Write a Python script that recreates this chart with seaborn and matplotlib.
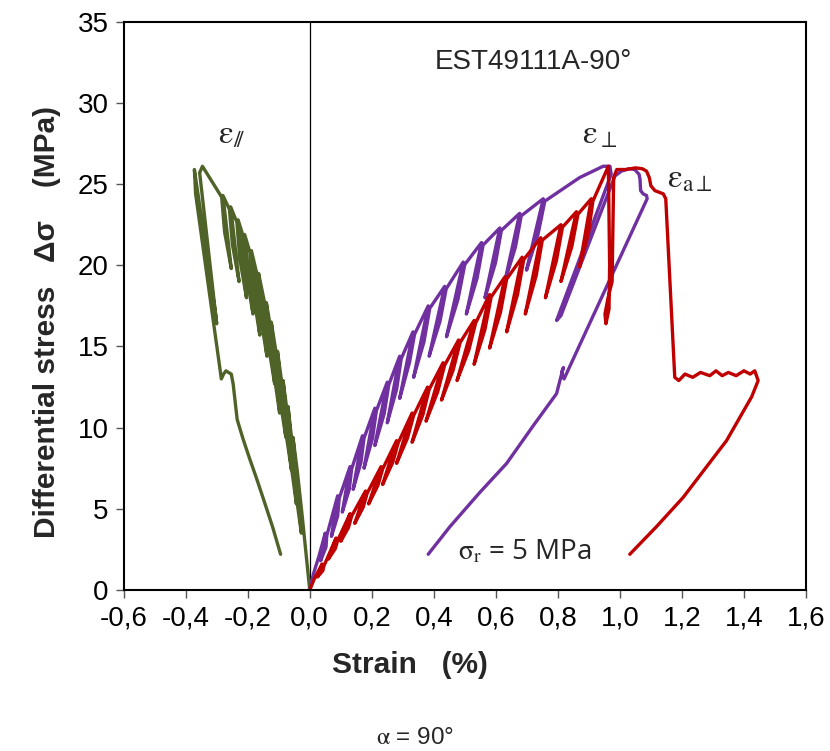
import matplotlib
matplotlib.use("Agg")
import matplotlib.pyplot as plt
import pandas as pd
import seaborn as sns

# ---------------- data (strain %, differential stress MPa) ----------------
# each cycle: peak -> unloading end -> reloading mid -> back on envelope
par_x = [0, -0.008, -0.016, -0.024, -0.032, -0.04,
         -0.054, -0.027, -0.0485, -0.058,
         -0.07, -0.043, -0.0645, -0.074,
         -0.086, -0.059, -0.0805, -0.09,
         -0.104, -0.077, -0.0985, -0.108,
         -0.124, -0.097, -0.1185, -0.128,
         -0.14, -0.113, -0.1345, -0.144,
         -0.165, -0.138, -0.1595, -0.169,
         -0.188, -0.161, -0.1825, -0.192,
         -0.21, -0.183, -0.2045, -0.214,
         -0.231, -0.204, -0.2255, -0.235,
         -0.255, -0.228, -0.2495, -0.259,
         -0.28, -0.253, -0.2745, -0.284,
         -0.346, -0.355, -0.30, -0.303, -0.372, -0.368, -0.285,
         -0.278, -0.27, -0.262, -0.253, -0.247, -0.234, -0.215, -0.194,
         -0.172, -0.151, -0.12, -0.094]
par_y = [0, 1.5, 3.0, 4.5, 5.9, 7.3,
         9.4, 3.5, 6.45, 9.25,
         11.3, 5.3, 8.3, 11.15,
         12.9, 7.4, 10.15, 12.75,
         14.7, 9.4, 12.05, 14.55,
         16.5, 10.9, 13.7, 16.35,
         17.7, 12.7, 15.2, 17.55,
         19.5, 14.4, 16.95, 19.35,
         20.9, 15.7, 18.3, 20.75,
         21.9, 17.0, 19.45, 21.75,
         22.8, 18.0, 20.4, 22.65,
         23.6, 19.0, 21.3, 23.45,
         24.3, 19.8, 22.05, 24.2,
         26.1, 25.7, 16.4, 16.9, 25.9, 24.4, 13.0,
         13.3, 13.5, 13.4, 13.3, 12.7, 10.5, 9.3, 8.1,
         6.9, 5.7, 3.9, 2.2]

perp_x = [0, 0.012, 0.03,
          0.05, 0.035, 0.0525, 0.055,
          0.09, 0.07, 0.09, 0.095,
          0.13, 0.105, 0.1275, 0.135,
          0.17, 0.14, 0.165, 0.175,
          0.21, 0.175, 0.2025, 0.215,
          0.25, 0.21, 0.24, 0.255,
          0.29, 0.25, 0.28, 0.295,
          0.333, 0.29, 0.3215, 0.338,
          0.382, 0.335, 0.3685, 0.387,
          0.435, 0.385, 0.42, 0.44,
          0.495, 0.441, 0.478, 0.50,
          0.554, 0.505, 0.5395, 0.559,
          0.613, 0.565, 0.599, 0.618,
          0.677, 0.629, 0.663, 0.682,
          0.753, 0.699, 0.736, 0.758,
          0.87, 0.946, 0.968, 0.972, 0.796, 0.81, 0.984, 1.005, 1.03,
          1.048, 1.062, 1.065, 1.067, 1.075, 1.086, 1.088, 0.82, 0.812,
          0.818, 0.808, 0.796, 0.72, 0.635, 0.548, 0.452, 0.382]
perp_y = [0, 1.0, 2.1,
          3.5, 1.8, 2.65, 3.35,
          5.8, 3.3, 4.55, 5.65,
          7.6, 4.8, 6.2, 7.45,
          9.5, 6.2, 7.85, 9.35,
          11.2, 7.5, 9.35, 11.05,
          12.8, 8.9, 10.85, 12.65,
          14.4, 10.3, 12.35, 14.25,
          15.9, 11.8, 14.0, 15.75,
          17.5, 13.1, 15.3, 17.35,
          18.7, 14.4, 16.55, 18.55,
          20.2, 15.6, 17.9, 20.05,
          21.4, 17.0, 19.2, 21.25,
          22.3, 18.0, 20.15, 22.15,
          23.2, 19.0, 21.1, 23.05,
          24.1, 19.7, 21.9, 23.95,
          25.4, 26.1, 26.1, 25.6, 16.6, 16.9, 25.5, 25.8, 25.95,
          25.9, 25.6, 25.3, 24.6, 24.4, 24.3, 24.1, 13.0, 13.4,
          13.7, 13.0, 12.1, 10.1, 7.8, 6.0, 3.9, 2.2]

aperp_x = [0, 0.015,
           0.04, 0.025, 0.0425, 0.045,
           0.085, 0.06, 0.0825, 0.09,
           0.13, 0.10, 0.125, 0.135,
           0.18, 0.145, 0.1725, 0.185,
           0.23, 0.19, 0.22, 0.235,
           0.28, 0.235, 0.2675, 0.285,
           0.33, 0.28, 0.315, 0.335,
           0.38, 0.33, 0.365, 0.385,
           0.43, 0.375, 0.4125, 0.435,
           0.48, 0.425, 0.4625, 0.485,
           0.53, 0.475, 0.5125, 0.535,
           0.58, 0.53, 0.565, 0.585,
           0.63, 0.58, 0.615, 0.635,
           0.685, 0.635, 0.67, 0.69,
           0.745, 0.695, 0.73, 0.75,
           0.81, 0.76, 0.795, 0.815,
           0.86, 0.81, 0.845, 0.865,
           0.908, 0.87, 0.899, 0.913,
           0.963, 0.967, 0.965, 0.955, 0.952, 0.962, 0.975, 0.98, 0.99,
           1.02, 1.05, 1.072, 1.086, 1.095, 1.1, 1.113, 1.14, 1.148,
           1.177, 1.19, 1.21, 1.235, 1.26, 1.29, 1.31, 1.33, 1.35, 1.375,
           1.40, 1.42, 1.435, 1.446, 1.425, 1.344, 1.28, 1.204, 1.118, 1.032]
aperp_y = [0, 0.7,
           1.6, 0.8, 1.2, 1.45,
           3.2, 1.9, 2.55, 3.05,
           4.7, 3.0, 3.85, 4.55,
           6.1, 4.1, 5.1, 5.95,
           7.6, 5.3, 6.45, 7.45,
           9.2, 6.5, 7.85, 9.05,
           10.9, 7.8, 9.35, 10.75,
           12.5, 9.1, 10.8, 12.35,
           14.0, 10.4, 12.2, 13.85,
           15.4, 11.7, 13.55, 15.25,
           16.6, 12.9, 14.75, 16.45,
           18.2, 13.9, 16.05, 18.05,
           19.3, 14.9, 17.1, 19.15,
           20.5, 15.9, 18.2, 20.35,
           21.7, 17.0, 19.35, 21.55,
           22.5, 18.0, 20.25, 22.35,
           23.3, 19.0, 21.15, 23.15,
           24.1, 19.9, 22.0, 23.95,
           26.1, 20.0, 17.3, 16.4, 17.0, 18.0, 19.0, 25.4, 25.9,
           25.9, 26.0, 25.95, 25.8, 25.4, 24.9, 24.6, 24.4, 24.1,
           13.1, 12.9, 13.3, 13.1, 13.4, 13.2, 13.5, 13.2, 13.4, 13.2,
           13.5, 13.3, 13.5, 12.9, 11.9, 9.2, 7.6, 5.7, 3.9, 2.2]

x_ticks = [-0.6, -0.4, -0.2, 0.0, 0.2, 0.4, 0.6, 0.8, 1.0, 1.2, 1.4, 1.6]
x_tick_labels = ["-0,6", "-0,4", "-0,2", "0,0", "0,2", "0,4", "0,6", "0,8",
                 "1,0", "1,2", "1,4", "1,6"]
y_ticks = [0, 5, 10, 15, 20, 25, 30, 35]

curves = [("par", par_x, par_y, "#4F6228"),
          ("perp", perp_x, perp_y, "#7030A0"),
          ("aperp", aperp_x, aperp_y, "#C00000")]

# ---------------- styling ----------------
sns.set_style("ticks")
plt.rcParams["font.family"] = ["Liberation Sans", "DejaVu Sans"]
plt.rcParams["mathtext.fontset"] = "stix"

fig = plt.figure(figsize=(8.30, 7.51), dpi=100)
ax = fig.add_axes([0.149, 0.2144, 0.822, 0.7566])

for name, xs, ys, col in curves:
    df = pd.DataFrame({"x": xs, "y": ys})
    sns.lineplot(data=df, x="x", y="y", sort=False, estimator=None,
                 color=col, linewidth=2.4, ax=ax, legend=False)

ax.axvline(0, color="black", linewidth=0.9, zorder=0)

ax.set_xlim(-0.6, 1.6)
ax.set_ylim(0, 35)
ax.set_xticks(x_ticks)
ax.set_xticklabels(x_tick_labels)
ax.set_yticks(y_ticks)
ax.tick_params(axis="both", labelsize=20, direction="out", length=6,
               width=1.0, color="#555555", labelcolor="black", pad=5)
for s in ax.spines.values():
    s.set_color("black")
    s.set_linewidth(1.5)
ax.set_xlabel("")
ax.set_ylabel("")

fig.text(410 / 830, 1 - 665 / 751, "Strain   (%)", fontsize=21.5,
         fontweight="bold", ha="center", va="center")
fig.text(47 / 830, 1 - 322 / 751, "Differential stress   \u0394\u03c3    (MPa)",
         fontsize=21.5, fontweight="bold", rotation=90, ha="center", va="center")

ax.text(0.72, 32.5, "EST49111A-90\u00b0", fontsize=20, ha="center", va="center")
ax.text(-0.25, 28.0, r"$\mathrm{\varepsilon}_{/\!/}$", fontsize=24,
        ha="center", va="center")
ax.text(0.935, 28.0, r"$\mathrm{\varepsilon}_{\perp}$", fontsize=24,
        ha="center", va="center")
ax.text(1.226, 25.3, r"$\mathrm{\varepsilon}_{\mathrm{a}\perp}$", fontsize=24,
        ha="center", va="center")
ax.text(0.694, 2.3, r"$\mathrm{\sigma}_{\mathrm{r}}$" + " = 5 MPa", fontsize=20,
        ha="center", va="center", family=["Open Sans", "DejaVu Sans"])
fig.text(415 / 830, 1 - 738 / 751, r"$\mathrm{\alpha}$" + " = 90\u00b0",
         fontsize=17.5, ha="center", va="center")

fig.savefig("out.png", dpi=100)
